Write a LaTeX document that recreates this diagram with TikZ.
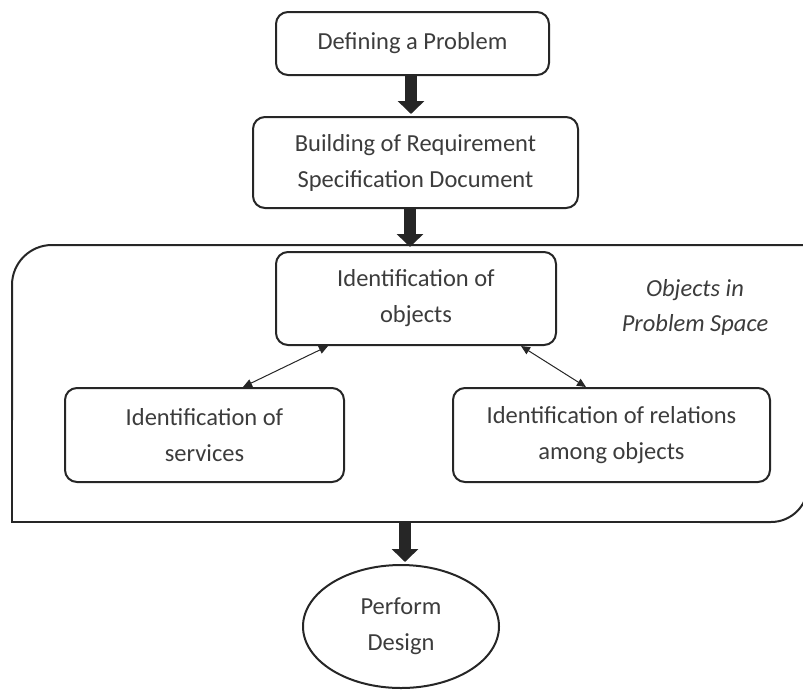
\documentclass[tikz,border=0pt]{standalone}
\usepackage{fontspec}
\setmainfont{Carlito}
\usetikzlibrary{arrows.meta,calc,shapes.geometric}
\definecolor{ink}{HTML}{262626}
\definecolor{txt}{HTML}{3C3C3C}
\begin{document}
\begin{tikzpicture}[x=1pt,y=-1pt,
  stepbox/.style={draw=ink, line width=2pt, rounded corners=12pt, inner sep=0pt,
    align=center, text=txt, font=\fontsize{24.5}{36}\selectfont},
  endbox/.style={draw=ink, line width=2pt, ellipse, inner sep=0pt,
    align=center, text=txt, font=\fontsize{24.5}{36}\selectfont},
  note/.style={align=center, text=txt, font=\fontsize{24.5}{35}\selectfont\itshape},
  flow/.style={draw=ink, line width=12pt, -{Triangle[width=26pt,length=13pt]}},
  link/.style={draw=ink, line width=1pt, {Triangle[width=8pt,length=9pt]}-{Triangle[width=8pt,length=9pt]}},
  frame/.style={draw=ink, line width=2pt}
]
\useasboundingbox (0,0) rectangle (803,689);

% process steps
\node[stepbox, minimum width=273pt, minimum height=63pt] (define) at (412.5,43.5) {Defining a Problem};
\node[stepbox, minimum width=325pt, minimum height=91pt] (spec) at (415.5,162.5) {Building of Requirement\\Specification Document};
\node[stepbox, minimum width=280pt, minimum height=93pt] (objects) at (416,298.5) {Identification of\\objects};
\node[stepbox, minimum width=279pt, minimum height=94pt] (services) at (204.5,435) {Identification of\\services};
\node[stepbox, minimum width=317pt, minimum height=94pt] (relations) at (611.5,435) {Identification of relations\\among objects};
\node[note] (space) at (695,307) {Objects in\\Problem Space};
\node[endbox, minimum width=196pt, minimum height=123pt] (design) at (401,626.5) {Perform\\Design};

% problem-space frame (its right side runs past the page edge)
\draw[frame, rounded corners=40pt] (803,245) -- (12,245) -- (12,420);
\draw[frame] (12,419) -- (12,522) -- (701,522);
\draw[frame, rounded corners=37pt] (700,522) -- (808,522) -- (808,420);
\coordinate (frametop) at (410,247);
\coordinate (framebot) at (405,522);

% main flow
\draw[flow, shorten >=2pt] ($(define.south)+(-1.5,0)$) -- ($(spec.north)+(-4.5,0)$);
\draw[flow] ($(spec.south)+(-5.5,0)$) -- (frametop);
\draw[flow, shorten >=2pt] (framebot) -- (framebot |- design.north);

% links inside the problem space
\draw[link] ($(objects.south west)+(53,0)$) -- ($(services.north west)+(179,0)$);
\draw[link] ($(objects.south east)+(-36,0)$) -- ($(relations.north west)+(134,0)$);
\end{tikzpicture}
\end{document}
